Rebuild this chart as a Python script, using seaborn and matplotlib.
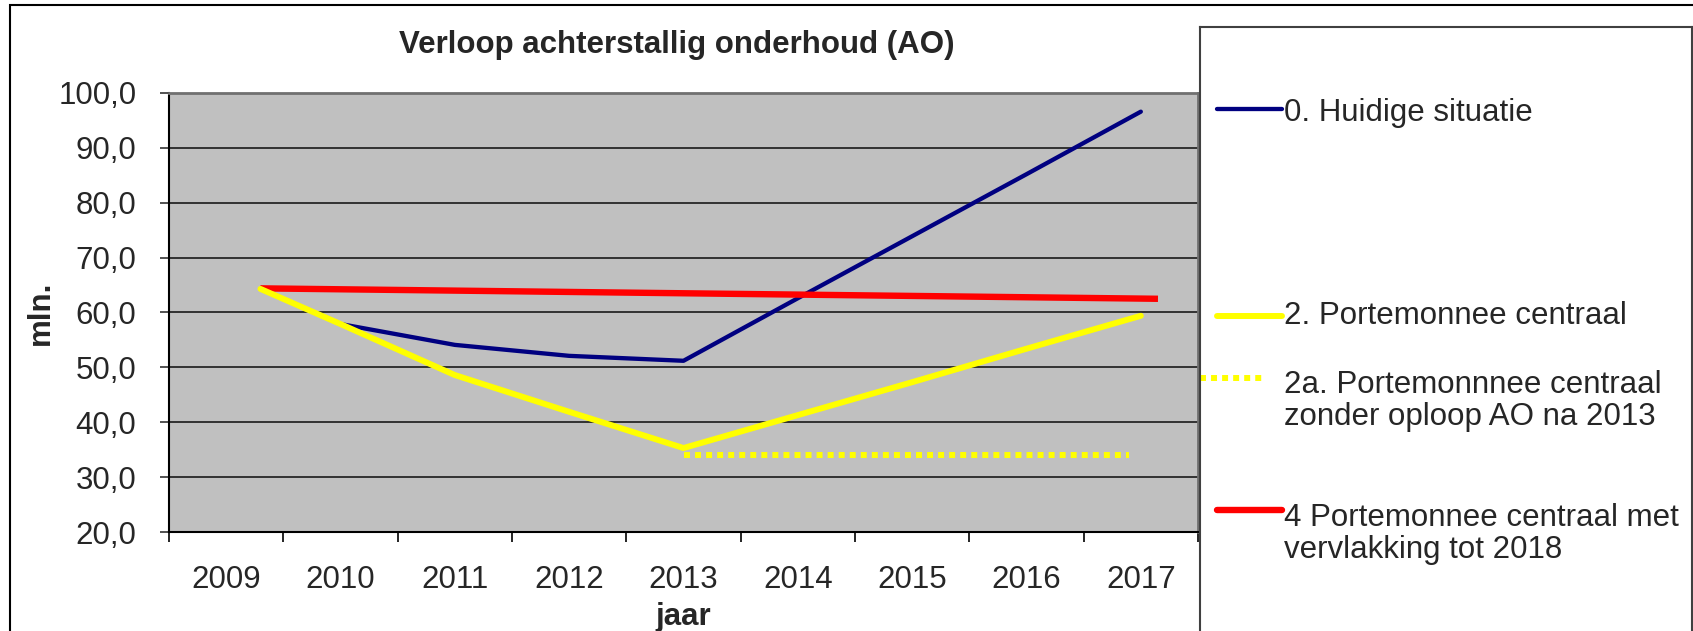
import numpy as np
import pandas as pd
import matplotlib.pyplot as plt
import seaborn as sns
from matplotlib.patches import Rectangle
from matplotlib.ticker import FixedLocator, FuncFormatter, NullFormatter

sns.set_style("white")
plt.rcParams["font.family"] = ["Liberation Sans", "DejaVu Sans"]

# --------------------------------------------------------------------------
# Data (mln.)
# --------------------------------------------------------------------------
years = [2009, 2010, 2011, 2012, 2013, 2014, 2015, 2016, 2017]
# the first point in the original sits a bit to the right of the 2009 centre
series_x = [2009.3, 2010, 2011, 2012, 2013, 2014, 2015, 2016, 2017]
huidige_situatie = [64.3, 57.9, 54.1, 52.1, 51.2, 62.6, 73.9, 85.2, 96.6]
portemonnee = [64.3, 57.9, 48.6, 41.9, 35.3, 41.3, 47.3, 53.4, 59.4]
zonder_x = [2013.0, 2016.9]
zonder_oploop = [34.1, 34.1]
vervlakking_x = [2009.3, 2017.15]
vervlakking = [64.4, 62.5]

labels = [
    "0. Huidige situatie",
    "2. Portemonnee centraal",
    "2a. Portemonnnee centraal\nzonder oploop AO na 2013",
    "4 Portemonnee centraal met\nvervlakking tot 2018",
]

BLUE, YELLOW, RED = "#000080", "#FFFF00", "#FF0000"

W, H = 1693, 631
fig = plt.figure(figsize=(W / 100, H / 100), dpi=100)

# outer chart border
fig.patches.append(Rectangle((10 / W, -0.1), 1.2, 1.1 - 5 / H, transform=fig.transFigure,
                             fill=False, ec="black", lw=1.5, zorder=0))

ax = fig.add_axes([169 / W, 1 - 532 / H, (1198 - 169) / W, (532 - 93) / H])
ax.set_facecolor("#C0C0C0")

sns.lineplot(x=series_x, y=huidige_situatie, ax=ax, color=BLUE, linewidth=3.1,
             solid_capstyle="round", zorder=3)
sns.lineplot(x=vervlakking_x, y=vervlakking, ax=ax, color=RED, linewidth=4.6,
             solid_capstyle="butt", zorder=4)
sns.lineplot(x=series_x, y=portemonnee, ax=ax, color=YELLOW, linewidth=4.3,
             solid_capstyle="round", zorder=5)
sns.lineplot(x=zonder_x, y=zonder_oploop, ax=ax, color=YELLOW, linewidth=4.3,
             linestyle=(0, (1, 0.85)), dash_capstyle="butt", zorder=5)

ax.set_xlim(years[0] - 0.5, years[-1] + 0.5)
ax.set_ylim(20, 100)

# category axis: ticks between the years, labels at the centres
ax.xaxis.set_major_locator(FixedLocator(np.arange(years[0] - 0.5, years[-1] + 1, 1)))
ax.xaxis.set_major_formatter(NullFormatter())
ax.xaxis.set_minor_locator(FixedLocator(years))
ax.xaxis.set_minor_formatter(FuncFormatter(lambda v, p: f"{int(round(v))}"))
ax.tick_params(axis="x", which="major", direction="out", length=7, width=1.2, color="black",
               bottom=True)
ax.tick_params(axis="x", which="minor", length=0, pad=24, labelsize=22.5, bottom=True)

ax.set_yticks(np.arange(20, 101, 10))
ax.yaxis.set_major_formatter(FuncFormatter(lambda v, p: f"{v:.1f}".replace(".", ",")))
ax.tick_params(axis="y", direction="out", length=6.5, width=1.2, color="#333333",
               pad=17, labelsize=22.5, left=True)

ax.yaxis.grid(True, color="#1a1a1a", linewidth=1.2)
ax.xaxis.grid(False)
ax.set_axisbelow(True)

for side in ["left", "bottom"]:
    ax.spines[side].set_color("black")
    ax.spines[side].set_linewidth(1.5)
for side in ["top", "right"]:
    ax.spines[side].set_color("#707070")
    ax.spines[side].set_linewidth(2)

ax.set_xlabel("jaar", fontsize=22.5, fontweight="bold")
ax.xaxis.set_label_coords(0.5, (532 - 617) / (532 - 93))
ax.xaxis.label.set_va("center")
ax.set_ylabel("mln.", fontsize=22.5, fontweight="bold")
ax.yaxis.set_label_coords((41 - 169) / (1198 - 169), 0.5)
ax.yaxis.label.set_va("center")

fig.text(677 / W, 1 - 45 / H, "Verloop achterstallig onderhoud (AO)", fontsize=22.5,
         fontweight="bold", ha="center", va="center")

# legend box drawn as its own panel (pixel coordinates, y from top)
lg = fig.add_axes([1200 / W, -0.1, (1692 - 1200) / W, 1.1 - 27 / H], zorder=10)
lg.set_facecolor("white")
lg.set_xlim(1200, 1692)
lg.set_ylim(H * 1.1, 27)
lg.set_xticks([])
lg.set_yticks([])
for s in lg.spines.values():
    s.set_color("#404040")
    s.set_linewidth(1.5)

handles = [
    dict(x=(1217, 1282), y=109, color=BLUE, lw=3.1, ls="-", ty=113),
    dict(x=(1217, 1282), y=316, color=YELLOW, lw=4.3, ls="-", ty=316),
    dict(x=(1200, 1263), y=378, color=YELLOW, lw=4.3, ls=(0, (1, 0.85)), ty=401),
    dict(x=(1217, 1282), y=510, color=RED, lw=4.6, ls="-", ty=534),
]
for h, text in zip(handles, labels):
    lg.plot(h["x"], [h["y"], h["y"]], color=h["color"], lw=h["lw"], linestyle=h["ls"],
            solid_capstyle="round", dash_capstyle="butt")
    lg.text(1284, h["ty"], text, fontsize=22.5, ha="left", va="center", linespacing=1.12)

fig.savefig("out.png", dpi=100)
